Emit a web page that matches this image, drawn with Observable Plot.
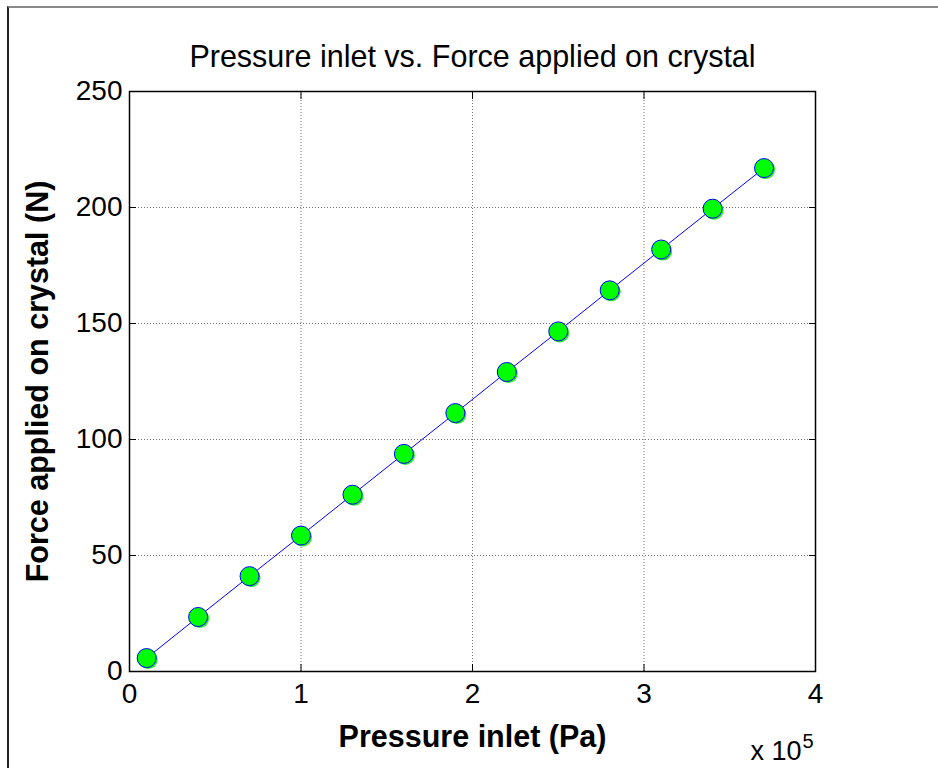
<!DOCTYPE html>
<html><head><meta charset="utf-8">
<script src="https://cdn.jsdelivr.net/npm/d3@7"></script>
<script src="https://cdn.jsdelivr.net/npm/@observablehq/plot@0.6"></script>
<style>
body{margin:0;background:#fff;}
#wrap{position:relative;width:938px;height:768px;overflow:hidden;background:#fff;}
#border{position:absolute;left:7px;top:6px;width:960px;height:800px;border-top:2px solid #8a8a8a;border-left:2px solid #222;}
#chart{position:absolute;left:0;top:0;}
</style></head><body><div id="wrap"><div id="border"></div><div id="chart"></div></div>
<script>
const pressure = [10000, 40000, 70000, 100000, 130000, 160000, 190000, 220000, 250000, 280000, 310000, 340000, 370000];
const force = [5.8, 23.5, 41.1, 58.6, 76.2, 93.8, 111.4, 129.1, 146.6, 164.3, 181.9, 199.5, 217.0];
const xTicks = [0, 100000, 200000, 300000, 400000];
const yTicks = [0, 50, 100, 150, 200, 250];
const title = "Pressure inlet vs. Force applied on crystal";
const xLabel = "Pressure inlet (Pa)";
const yLabel = "Force applied on crystal (N)";
const xMultiplier = "x 10";
const xExponent = "5";

const data = pressure.map((p, i) => ({p, f: force[i]}));
const font = "'Liberation Sans', Arial, Helvetica, sans-serif";

const plot = Plot.plot({
  width: 938, height: 768,
  marginLeft: 129, marginRight: 123, marginTop: 91, marginBottom: 97,
  style: {fontFamily: font, background: "transparent", color: "#000", overflow: "visible"},
  x: {domain: [0, 400000]},
  y: {domain: [0, 250]},
  marks: [
    Plot.gridX(xTicks.slice(1, -1), {stroke: "#000", strokeOpacity: 0.55, strokeDasharray: "1,2", strokeWidth: 1}),
    Plot.gridY(yTicks.slice(1, -1), {stroke: "#000", strokeOpacity: 0.55, strokeDasharray: "1,2", strokeWidth: 1}),
    Plot.axisX(xTicks, {anchor: "bottom", tickSize: -7, tickPadding: 19, fontSize: 28, tickFormat: d => d / 1e5, label: null}),
    Plot.axisX(xTicks, {anchor: "top", tickSize: -7, tickFormat: () => "", label: null}),
    Plot.axisY(yTicks, {anchor: "left", tickSize: -7, tickPadding: 14, fontSize: 28, label: null}),
    Plot.axisY(yTicks, {anchor: "right", tickSize: -7, tickFormat: () => "", label: null}),
    Plot.frame({stroke: "#000", strokeWidth: 1.5}),
    Plot.line(data, {x: "p", y: "f", stroke: "#0000ff", strokeWidth: 1}),
    Plot.dot(data, {x: "p", y: "f", r: 9.5, fill: "#22ee22", dx: 1.5, dy: 1.5}),
    Plot.dot(data, {x: "p", y: "f", r: 9.5, fill: "#00ff00", stroke: "#0000ff", strokeWidth: 1}),
    Plot.text([title], {frameAnchor: "top", dy: -34, lineAnchor: "middle", fontSize: 30.5, fill: "#000"}),
    Plot.text([xLabel], {frameAnchor: "bottom", dy: 66, lineAnchor: "middle", fontSize: 30.5, fontWeight: "bold", fill: "#000"}),
    Plot.text([yLabel], {frameAnchor: "left", dx: -91, rotate: -90, textAnchor: "middle", lineAnchor: "middle", fontSize: 30.5, fontWeight: "bold", fill: "#000"}),
    Plot.text([xMultiplier], {frameAnchor: "bottom-right", dx: -14, dy: 80, textAnchor: "end", lineAnchor: "middle", fontSize: 27, fill: "#000"}),
    Plot.text([xExponent], {frameAnchor: "bottom-right", dx: -13, dy: 70, textAnchor: "start", lineAnchor: "middle", fontSize: 20, fill: "#000"})
  ]
});
document.getElementById("chart").appendChild(plot);
</script>
</body></html>
